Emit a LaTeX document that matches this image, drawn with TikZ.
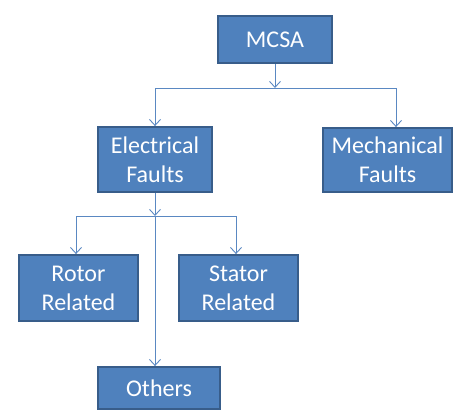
\documentclass[tikz,border=0pt]{standalone}
\usepackage{fontspec}
\setmainfont{Carlito}
\usetikzlibrary{arrows.meta, shadows}
\definecolor{boxfill}{HTML}{4F81BD}
\definecolor{boxline}{HTML}{385D8A}
\definecolor{linkline}{HTML}{5A88C2}
\tikzstyle{fault} = [rectangle, draw=boxline, line width=1.8pt, fill=boxfill, text=white, align=center, font=\fontsize{24}{29}\selectfont, inner sep=0pt, drop shadow={shadow xshift=1pt, shadow yshift=-1.5pt, opacity=0.25}]
\tikzstyle{arrow} = [linkline, line width=0.9pt, -{Straight Barb[length=6pt, width=11pt]}]

\begin{document}
\begin{tikzpicture}[x=1pt, y=-1pt]
\useasboundingbox (0,0) rectangle (459,419);

% Top level
\node (mcsa) [fault, minimum width=114pt, minimum height=47pt] at (275,39.5) {MCSA};

% Second level
\node (elec) [fault, minimum width=114pt, minimum height=65pt] at (155,159.5) {Electrical\\Faults};
\node (mech) [fault, minimum width=129pt, minimum height=64pt] at (387.5,160) {Mechanical\\Faults};

% Third level
\node (rotor) [fault, minimum width=119pt, minimum height=66pt] at (78.5,288) {Rotor\\Related};
\node (stator) [fault, minimum width=119pt, minimum height=66pt] at (238.5,288) {Stator\\Related};
\node (others) [fault, minimum width=122pt, minimum height=42pt] at (159,388) {Others};

% Branch points
\coordinate (jtop) at (mcsa.south |- 0,88);
\coordinate (jelec) at (elec.south |- 0,216);

% Arrows
\draw [arrow] (mcsa) -- (jtop);
\draw [arrow] (jtop) -| (elec.north);
\draw [arrow] (jtop) -| ([xshift=8.5pt]mech.north);
\draw [arrow] (elec) -- (jelec);
\draw [arrow] (jelec) -| ([xshift=-2.5pt]rotor.north);
\draw [arrow] (jelec) -| ([xshift=-2.5pt]stator.north);
\draw [arrow] (jelec) -- (jelec |- others.north);

\end{tikzpicture}
\end{document}
